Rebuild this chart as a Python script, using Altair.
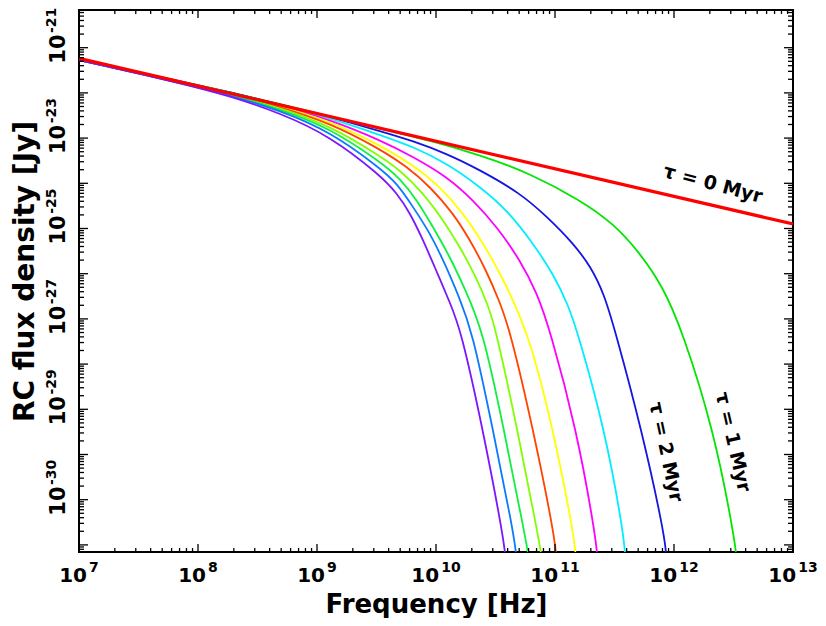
import altair as alt
import pandas as pd

# ---- data (log10 frequency [Hz], log10 flux density [Jy]) ----
series_names = ["1 Myr", "2 Myr", "3 Myr", "4 Myr", "5 Myr",
                "6 Myr", "7 Myr", "8 Myr", "9 Myr", "10 Myr"]
series_colors = ["#00e600", "#1515e0", "#00eeff", "#ff00ff", "#ffff00",
                 "#ff4400", "#80ff00", "#10f040", "#0a7aff", "#7b16ff"]

lognu_1 = [7.000, 7.849, 8.269, 8.689, 9.109, 9.529, 9.950, 10.370, 10.790, 11.210, 11.487, 11.714, 11.908,
           12.067, 12.334, 12.496, 12.521]
logS_1 = [-21.272, -21.737, -21.980, -22.246, -22.518, -22.790, -23.053, -23.374, -23.779, -24.370, -24.878,
          -25.542, -26.294, -27.246, -29.458, -31.670, -32.179]

lognu_2 = [7.000, 7.849, 8.269, 8.689, 9.109, 9.529, 9.807, 10.092, 10.370, 10.706, 10.933, 11.151, 11.303,
           11.412, 11.504, 11.729, 11.912, 11.933]
logS_2 = [-21.272, -21.741, -21.987, -22.257, -22.533, -22.843, -23.064, -23.347, -23.706, -24.215, -24.739,
          -25.321, -25.852, -26.449, -27.246, -29.458, -31.670, -32.179]

lognu_3 = [7.000, 7.849, 8.269, 8.689, 9.109, 9.529, 9.807, 10.092, 10.370, 10.597, 10.815, 11.000, 11.109,
           11.185, 11.420, 11.571, 11.588]
logS_3 = [-21.272, -21.746, -21.993, -22.268, -22.555, -22.931, -23.190, -23.558, -24.075, -24.591, -25.321,
          -26.073, -26.693, -27.246, -29.458, -31.670, -32.179]

lognu_4 = [7.000, 7.849, 8.269, 8.689, 9.109, 9.529, 9.807, 10.092, 10.311, 10.513, 10.706, 10.849, 10.958,
           11.182, 11.332, 11.353]
logS_4 = [-21.272, -21.750, -22.002, -22.283, -22.589, -23.042, -23.412, -23.854, -24.370, -24.967, -25.697,
          -26.427, -27.246, -29.458, -31.670, -32.179]

lognu_5 = [7.000, 7.849, 8.269, 8.689, 9.109, 9.529, 9.807, 10.034, 10.227, 10.395, 10.538, 10.773, 10.986,
           11.151, 11.172]
logS_5 = [-21.272, -21.754, -22.009, -22.296, -22.622, -23.153, -23.595, -24.075, -24.657, -25.321, -25.985,
          -27.246, -29.458, -31.670, -32.179]

lognu_6 = [7.000, 7.849, 8.269, 8.689, 9.109, 9.529, 9.756, 9.950, 10.143, 10.286, 10.420, 10.529, 10.622,
           10.818, 10.986, 11.008]
logS_6 = [-21.272, -21.759, -22.018, -22.312, -22.666, -23.241, -23.633, -24.075, -24.657, -25.254, -25.918,
          -26.582, -27.246, -29.458, -31.670, -32.179]

lognu_7 = [7.000, 7.849, 8.269, 8.689, 9.109, 9.529, 9.697, 9.891, 10.059, 10.202, 10.336, 10.437, 10.504,
           10.685, 10.849, 10.882]
logS_7 = [-21.272, -21.766, -22.029, -22.334, -22.721, -23.396, -23.706, -24.215, -24.812, -25.409, -26.073,
          -26.693, -27.246, -29.458, -31.670, -32.179]

lognu_8 = [7.000, 7.849, 8.269, 8.689, 9.109, 9.529, 9.697, 9.840, 9.975, 10.118, 10.235, 10.395, 10.571,
           10.739, 10.773]
logS_8 = [-21.272, -21.772, -22.040, -22.356, -22.777, -23.518, -23.889, -24.370, -24.967, -25.631, -26.294,
          -27.246, -29.458, -31.670, -32.179]

lognu_9 = [7.000, 7.849, 8.269, 8.689, 9.109, 9.529, 9.672, 9.807, 9.950, 10.084, 10.193, 10.303, 10.479,
           10.647, 10.672]
logS_9 = [-21.272, -21.777, -22.053, -22.389, -22.854, -23.662, -24.000, -24.524, -25.100, -25.830, -26.515,
          -27.246, -29.458, -31.670, -32.179]

lognu_10 = [7.000, 7.849, 8.269, 8.689, 9.109, 9.529, 9.672, 9.782, 9.891, 10.000, 10.118, 10.210, 10.395,
            10.555, 10.580]
logS_10 = [-21.272, -21.781, -22.069, -22.445, -22.953, -23.816, -24.221, -24.657, -25.254, -25.918, -26.648,
           -27.246, -29.458, -31.670, -32.179]

# tau = 0 Myr power law (red)
lognu_0 = [7.0, 13.0]
logS_0 = [-21.235, -24.900]

# axes
x_domain_exp = [7.0, 13.0]
y_domain_exp = [-32.157, -20.166]
x_tick_exps = [7, 8, 9, 10, 11, 12, 13]
x_tick_base = "10"
x_tick_sup = ["7", "8", "9", "10", "11", "12", "13"]
y_major_exps = list(range(-32, -20))
y_tick_exps = [-21, -23, -25, -27, -29, -31]
y_tick_base = "10"
y_tick_sup = ["-21", "-23", "-25", "-27", "-29", "-30"]

# annotations: text, log10 nu, log10 S, angle
ann_text = ["τ = 0 Myr", "τ = 2 Myr", "τ = 1 Myr"]
ann_lognu = [12.328, 11.933, 12.496]
ann_logS = [-24.015, -29.945, -29.724]
ann_angle = [15, 78, 77]

# ---- build tables ----
all_nu = [lognu_1, lognu_2, lognu_3, lognu_4, lognu_5, lognu_6, lognu_7, lognu_8, lognu_9, lognu_10]
all_S = [logS_1, logS_2, logS_3, logS_4, logS_5, logS_6, logS_7, logS_8, logS_9, logS_10]
rows = []
for name, ln, ls in zip(series_names, all_nu, all_S):
    for a, b in zip(ln, ls):
        rows.append({"series": name, "nu": 10 ** a, "S": 10 ** b})
curves = pd.DataFrame(rows)
red = pd.DataFrame({"nu": [10 ** v for v in lognu_0], "S": [10 ** v for v in logS_0]})

W, H = 714, 542
FONT = "DejaVu Sans"

xscale = alt.Scale(type="log", domain=[10 ** x_domain_exp[0], 10 ** x_domain_exp[1]], nice=False)
yscale = alt.Scale(type="log", domain=[10 ** y_domain_exp[0], 10 ** y_domain_exp[1]], nice=False)

x_axis = alt.Axis(title="Frequency [Hz]", labels=False, ticks=False, domain=False, grid=False,
                  titleFont=FONT, titleFontWeight="bold", titleFontSize=26, titleColor="black",
                  titleBaseline="alphabetic", titleY=60)
y_axis = alt.Axis(title="RC flux density [Jy]", labels=False, ticks=False, domain=False, grid=False,
                  titleFont=FONT, titleFontWeight="bold", titleFontSize=28, titleColor="black",
                  titleAngle=270, titleAlign="center", titleBaseline="alphabetic", titleX=-46, titleY=261)

X = alt.X("nu:Q", scale=xscale, axis=x_axis)
Y = alt.Y("S:Q", scale=yscale, axis=y_axis)

lines = alt.Chart(curves).mark_line(strokeWidth=1.8, clip=True, interpolate="basis").encode(
    x=X, y=Y,
    color=alt.Color("series:N", scale=alt.Scale(domain=series_names, range=series_colors), legend=None),
)
red_line = alt.Chart(red).mark_line(strokeWidth=3.2, color="#ff0000", clip=True).encode(x=X, y=Y)

# inward tick marks (matplotlib style)
x_major = pd.DataFrame({"nu": [10 ** e for e in x_tick_exps]})
x_minor = pd.DataFrame({"nu": [m * 10 ** e for e in x_tick_exps[:-1] for m in range(2, 10)]})
y_major = pd.DataFrame({"S": [10.0 ** e for e in y_major_exps]})
y_minor = pd.DataFrame({"S": [m * 10.0 ** e for e in range(-33, -20) for m in range(2, 10)
                              if 10 ** y_domain_exp[0] < m * 10.0 ** e < 10 ** y_domain_exp[1]]})

tick_layers = []
for df, ln in ((x_major, 8), (x_minor, 4)):
    base = alt.Chart(df).mark_rule(color="black", strokeWidth=1.3)
    tick_layers.append(base.encode(x=X, y=alt.value(H), y2=alt.value(H - ln)))
    tick_layers.append(base.encode(x=X, y=alt.value(0), y2=alt.value(ln)))
for df, ln in ((y_major, 9), (y_minor, 5)):
    base = alt.Chart(df).mark_rule(color="black", strokeWidth=1.3)
    tick_layers.append(base.encode(y=Y, x=alt.value(0), x2=alt.value(ln)))
    tick_layers.append(base.encode(y=Y, x=alt.value(W), x2=alt.value(W - ln)))

# tick labels drawn as "10" + superscript exponent
BASE_FS, SUP_FS = 20, 14
BASE_W = 1.392 * BASE_FS
GAP = 2.0
label_layers = []
for ndig in (1, 2):
    idx = [i for i, s in enumerate(x_tick_sup) if len(s) == ndig]
    d = pd.DataFrame({"nu": [10.0 ** x_tick_exps[i] for i in idx],
                      "base": [x_tick_base] * len(idx),
                      "sup": [x_tick_sup[i] for i in idx]})
    total = BASE_W + GAP + ndig * 0.696 * SUP_FS
    label_layers.append(alt.Chart(d).mark_text(font=FONT, fontWeight="bold", fontSize=BASE_FS, color="black",
                                               align="left", baseline="alphabetic", dx=-total / 2).encode(
        x=X, y=alt.value(H + 30), text="base:N"))
    label_layers.append(alt.Chart(d).mark_text(font=FONT, fontWeight="bold", fontSize=SUP_FS, color="black",
                                               align="left", baseline="alphabetic",
                                               dx=-total / 2 + BASE_W + GAP).encode(
        x=X, y=alt.value(H + 20), text="sup:N"))

YB_FS = 21
yl = pd.DataFrame({"S": [10.0 ** e for e in y_tick_exps], "base": [y_tick_base] * len(y_tick_exps),
                   "sup": y_tick_sup})
label_layers.append(alt.Chart(yl).mark_text(font=FONT, fontWeight="bold", fontSize=YB_FS, color="black",
                                            angle=270, align="left", baseline="alphabetic", dx=-16).encode(
    y=Y, x=alt.value(-14), text="base:N"))
label_layers.append(alt.Chart(yl).mark_text(font=FONT, fontWeight="bold", fontSize=SUP_FS, color="black",
                                            angle=270, align="left", baseline="alphabetic",
                                            dx=-16 + 1.392 * YB_FS + 1.5).encode(
    y=Y, x=alt.value(-23), text="sup:N"))

ann_layers = []
for t, a, b, ang in zip(ann_text, ann_lognu, ann_logS, ann_angle):
    d = pd.DataFrame({"nu": [10 ** a], "S": [10 ** b], "label": [t]})
    ann_layers.append(alt.Chart(d).mark_text(font=FONT, fontWeight="bold", fontSize=19, angle=ang,
                                             color="black", align="center", baseline="middle").encode(
        x=X, y=Y, text="label:N"))

chart = alt.layer(lines, red_line, *tick_layers, *label_layers, *ann_layers).properties(
    width=W, height=H,
    autosize=alt.AutoSizeParams(type="none"),
    padding={"left": 71, "top": 2, "right": 25, "bottom": 66},
).configure_view(stroke="black", strokeWidth=2)

chart.save("out.html", embed_options={"renderer": "svg", "actions": False})
